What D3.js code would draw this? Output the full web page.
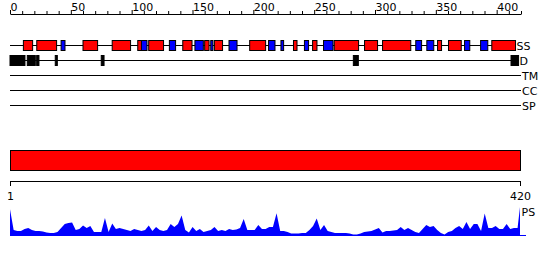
<!DOCTYPE html>
<html><head><meta charset="utf-8">
<script src="https://cdn.jsdelivr.net/npm/d3@7"></script>
<style>
html,body{margin:0;padding:0;background:#fff;}
svg{display:block;font-family:"DejaVu Sans",sans-serif;font-size:11px;}
</style></head><body>
<svg id="chart" width="550" height="260"></svg>
<script>
// ── data ───────────────────────────────────────────────────────────────────
const seqLength = 420;
const axisLabels = [0, 50, 100, 150, 200, 250, 300, 350, 400];
const rulerLabels = [1, 420];

// secondary structure: H = helix (red), E = strand (blue)
const ssStart = [11, 22, 42, 60, 84, 105, 108, 114, 131, 142, 152, 160, 165, 168, 180, 197,
  212.5, 222.7, 233, 242, 248.7, 257.7, 266.5, 291.4, 306.2, 333.5, 342.6, 351.4, 360.4, 373.6, 386.8, 396];
const ssEnd = [18.6, 38.3, 45.2, 72, 99.1, 108.2, 112.6, 126.2, 136.1, 149.6, 158.9, 163.6, 166.8, 174.7, 186.6, 210.1,
  217.8, 224.9, 235.9, 245.4, 252.3, 265.5, 286.5, 302.1, 329.4, 338.3, 348.3, 354.7, 370.9, 377.9, 392.7, 415.5];
const ssType = ['H','H','E','H','H','H','E','H','E','H','E','H','E','H','E','H',
  'E','E','H','E','H','E','H','H','H','E','E','H','H','E','E','H'];

// disorder blocks
const domStart = [0, 14.2, 21.9, 37.2, 75, 282.2, 411.8];
const domEnd   = [12.3, 20.8, 23.8, 38.9, 77.3, 286.3, 418];

const trackNames = ['SS', 'D', 'TM', 'CC', 'SP'];
const trackEnds  = [415.5, 418, 420, 420, 420];

// PS profile, sampled every 3 residues from residue 1, last value at residue 420
const psValues = [
  0.89,0.20,0.17,0.17,0.23,0.27,0.20,0.17,0.17,0.15,0.12,0.10,0.10,0.13,0.27,0.40,0.43,0.45,0.20,0.23,
  0.35,0.27,0.33,0.13,0.13,0.13,0.60,0.13,0.42,0.23,0.27,0.23,0.20,0.17,0.23,0.20,0.17,0.20,0.35,0.17,
  0.30,0.20,0.17,0.20,0.40,0.30,0.40,0.68,0.20,0.12,0.30,0.17,0.23,0.13,0.17,0.20,0.30,0.17,0.20,0.17,
  0.23,0.20,0.22,0.27,0.57,0.20,0.20,0.20,0.37,0.23,0.23,0.30,0.30,0.76,0.17,0.17,0.13,0.08,0.08,0.08,
  0.10,0.10,0.20,0.33,0.58,0.20,0.37,0.17,0.13,0.10,0.10,0.10,0.10,0.08,0.05,0.05,0.08,0.13,0.15,0.17,
  0.22,0.27,0.12,0.17,0.17,0.18,0.20,0.30,0.20,0.27,0.20,0.13,0.10,0.23,0.37,0.30,0.33,0.20,0.10,0.05,
  0.13,0.17,0.27,0.33,0.23,0.47,0.23,0.40,0.40,0.17,0.75,0.27,0.27,0.33,0.23,0.23,0.40,0.23,0.27,0.27,
  0.97];
const psPos = d3.range(1, seqLength, 3).concat([seqLength]);

const ssColor = { H: '#ff0000', E: '#0000ff' };

// ── scales ─────────────────────────────────────────────────────────────────
const svg = d3.select('#chart');
const xTop = d3.scaleLinear().domain([0, seqLength]).range([10, 521]);
const xRes = d3.scaleLinear().domain([1, seqLength]).range([10, 520]);
const trackY = d3.scalePoint().domain(trackNames).range([45.5, 105.5]);
const yPS = d3.scaleLinear().domain([0, 1]).range([236, 206]);

// ── top axis ───────────────────────────────────────────────────────────────
const axisG = svg.append('g').attr('transform', 'translate(0,14)')
  .call(d3.axisTop(xTop).tickValues(d3.range(0, seqLength + 1, 10)).tickSize(3).tickSizeOuter(0)
    .tickFormat(d => axisLabels.includes(d) ? d : ''));
axisG.attr('font-family', '"DejaVu Sans", sans-serif').attr('font-size', 11);
axisG.selectAll('path, line').attr('stroke', '#000');
axisG.selectAll('.tick text').attr('text-anchor', 'start').attr('fill', '#000').attr('y', -3).attr('dy', null);
axisG.selectAll('.tick line').filter(d => axisLabels.includes(d)).attr('y2', -4);

// ── tracks ─────────────────────────────────────────────────────────────────
const tracks = svg.append('g');
trackNames.forEach((name, i) => {
  const y = trackY(name);
  tracks.append('line')
    .attr('x1', xTop(0)).attr('x2', xTop(trackEnds[i]))
    .attr('y1', y).attr('y2', y).attr('stroke', '#000');
  tracks.append('text')
    .attr('x', xTop(trackEnds[i]) + 1).attr('y', y + 4.5)
    .text(name);
});

tracks.selectAll('.ss').data(d3.range(ssStart.length)).join('rect')
  .attr('class', 'ss')
  .attr('x', i => xTop(ssStart[i])).attr('width', i => xTop(ssEnd[i]) - xTop(ssStart[i]))
  .attr('y', trackY('SS') - 5).attr('height', 10)
  .attr('fill', i => ssColor[ssType[i]]).attr('stroke', '#000');

tracks.selectAll('.dis').data(d3.range(domStart.length)).join('rect')
  .attr('class', 'dis')
  .attr('x', i => xTop(domStart[i])).attr('width', i => xTop(domEnd[i]) - xTop(domStart[i]))
  .attr('y', trackY('D') - 5).attr('height', 10)
  .attr('fill', '#000').attr('stroke', '#000');

// ── full-length bar + ruler ────────────────────────────────────────────────
svg.append('rect')
  .attr('x', xRes(1) + 0.5).attr('y', 150.5)
  .attr('width', xRes(seqLength) - xRes(1)).attr('height', 20)
  .attr('fill', '#ff0000').attr('stroke', '#000');

const ruler = svg.append('g').attr('transform', 'translate(0,181)')
  .call(d3.axisBottom(xRes).tickValues(rulerLabels).tickSize(5).tickSizeOuter(0));
ruler.attr('font-family', '"DejaVu Sans", sans-serif').attr('font-size', 11);
ruler.selectAll('path, line').attr('stroke', '#000');
ruler.selectAll('.tick text').attr('fill', '#000').attr('y', 18.5).attr('dy', null);

// ── PS profile ─────────────────────────────────────────────────────────────
const ps = svg.append('g');
ps.append('path')
  .datum(psValues)
  .attr('d', d3.area().x((d, i) => xRes(psPos[i])).y0(yPS(0)).y1(d => yPS(d)))
  .attr('fill', '#0000ff');
ps.append('line')
  .attr('x1', xRes(1)).attr('x2', xRes(seqLength) + 6)
  .attr('y1', yPS(0) - 0.5).attr('y2', yPS(0) - 0.5)
  .attr('stroke', '#0000ff');
ps.append('text')
  .attr('x', xRes(seqLength) + 1.5).attr('y', 216)
  .text('PS');
</script></body></html>
